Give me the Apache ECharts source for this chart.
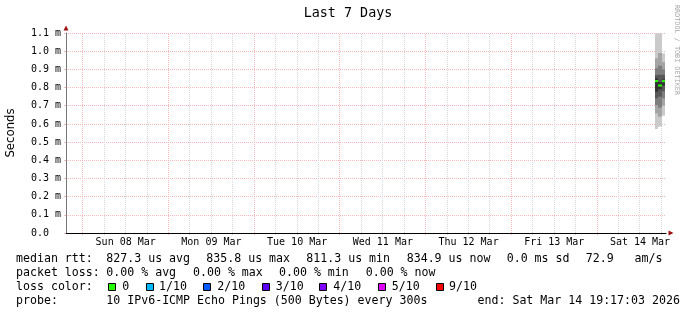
<!DOCTYPE html>
<html><head><meta charset="utf-8">
<script src="https://cdn.jsdelivr.net/npm/echarts@6/dist/echarts.min.js"></script>
<style>html,body{margin:0;padding:0;background:#fff}#c{width:697px;height:315px}</style>
</head><body><div id="c"></div>
<script>
// ---------------- data ----------------
const chartTitle = 'Last 7 Days';
const yAxisTitle = 'Seconds';
const watermark = 'RRDTOOL / TOBI OETIKER';
const endTimeStr = '2026-03-14T19:17:03Z';
const dayDates = ['2026-03-08','2026-03-09','2026-03-10','2026-03-11','2026-03-12','2026-03-13','2026-03-14'];
const dayLabels = ['Sun 08 Mar','Mon 09 Mar','Tue 10 Mar','Wed 11 Mar','Thu 12 Mar','Fri 13 Mar','Sat 14 Mar'];
const yTickLabels = ['0.0  ','0.1 m','0.2 m','0.3 m','0.4 m','0.5 m','0.6 m','0.7 m','0.8 m','0.9 m','1.0 m','1.1 m'];
// hourly smoke slots (start / end), RTT in ms, 10 sorted pings each
const slotStarts = ['2026-03-14T16:00:00Z','2026-03-14T17:00:00Z','2026-03-14T18:00:00Z'];
const slotEnds   = ['2026-03-14T17:00:00Z','2026-03-14T18:00:00Z','2026-03-14T19:00:00Z'];
const pingsSlot1 = [0.572, 0.658, 0.704, 0.741, 0.777, 0.851, 0.869, 0.906, 0.961, 1.098];
const pingsSlot2 = [0.585, 0.640, 0.690, 0.750, 0.790, 0.830, 0.870, 0.920, 0.990, 1.098];
const pingsSlot3 = [0.645, 0.700, 0.740, 0.780, 0.810, 0.845, 0.870, 0.900, 0.940, 0.988];
const medianRtt  = [0.836, 0.811, 0.835];
// legend texts
const rttStatValues = ['827.3','835.8','811.3','834.9'];
const rttStatNames  = ['avg','max','min','now'];
const sdText = '0.0 ms sd';
const amText = '72.9   am/s';
const lossStatValues = ['0.00','0.00','0.00','0.00'];
const lossStatNames  = ['avg','max','min','now'];
const lossColorLabels = ['0','1/10','2/10','3/10','4/10','5/10','9/10'];
const lossColors = ['#26ff00','#00b8ff','#0059ff','#5e00ff','#7e00ff','#dd00ff','#ff0000'];
const probeText = '10 IPv6-ICMP Echo Pings (500 Bytes) every 300s';
const endText = 'end: Sat Mar 14 19:17:03 2026';

// ---------------- build ----------------
const endT = Date.parse(endTimeStr);
const startT = endT - 7 * 24 * 3600 * 1000;
const noons = dayDates.map(d => Date.parse(d + 'T12:00:00Z'));
const gridTimes = [];
dayDates.forEach(d => [0, 6, 12, 18].forEach(h => {
  const t = Date.parse(d + 'T00:00:00Z') + h * 3600000;
  if (t > startT && t < endT) gridTimes.push([t, h === 0 ? 1 : 0]);
}));
const allPings = [pingsSlot1, pingsSlot2, pingsSlot3];
const smokeData = slotStarts.map((s, i) => [Date.parse(s), Date.parse(slotEnds[i])].concat(allPings[i]));
const medianData = slotStarts.map((s, i) => [Date.parse(s), Date.parse(slotEnds[i]), medianRtt[i]]);

const MONO = "'DejaVu Sans Mono', monospace";
const MGRID = '#f2baba', GRID = '#d6d6d6';
const SMOKE = ['#cacaca', '#a4a4a4', '#7e7e7e', '#585858', '#323232'];
const LF = "11.6px 'DejaVu Sans Mono'";

function txt(x, y, s) {
  return { type: 'text', x: x, y: y, silent: true,
    style: { text: s, font: LF, fill: '#000', align: 'left', verticalAlign: 'middle' } };
}
const rowY = [259.3, 273.3, 287.0, 300.9];
const rttX = [106.3, 206.3, 306.3, 406.7];
const lossX = [106.3, 193.0, 279.0, 365.7];
const boxX = [108, 146, 203, 262, 319, 378, 436];
const boxLabelX = [122.3, 159.0, 217.3, 275.7, 333.3, 391.7, 449.0];

const graphics = [
  { type: 'text', x: 348, y: 13.7, silent: true,
    style: { text: chartTitle, font: "13.4px 'DejaVu Sans Mono'", fill: '#000', align: 'center', verticalAlign: 'middle' } },
  { type: 'text', x: 10.9, y: 133, rotation: Math.PI / 2, silent: true,
    style: { text: yAxisTitle, font: "11.7px 'DejaVu Sans'", fill: '#000', align: 'center', verticalAlign: 'middle' } },
  { type: 'text', x: 677, y: 50, rotation: -Math.PI / 2, silent: true,
    style: { text: watermark, font: "6.8px 'DejaVu Sans Mono'", fill: '#a8a8a8', align: 'center', verticalAlign: 'middle' } },
  txt(16, rowY[0], 'median rtt:'),
  txt(16, rowY[1], 'packet loss:'),
  txt(16, rowY[2], 'loss color:'),
  txt(16, rowY[3], 'probe:'),
  txt(506.7, rowY[0], sdText),
  txt(585.7, rowY[0], amText),
  txt(106.3, rowY[3], probeText),
  txt(477.5, rowY[3], endText)
];
rttStatValues.forEach((v, i) => graphics.push(txt(rttX[i], rowY[0], v + ' us ' + rttStatNames[i])));
lossStatValues.forEach((v, i) => graphics.push(txt(lossX[i], rowY[1], v + ' % ' + lossStatNames[i])));
lossColorLabels.forEach((l, i) => {
  graphics.push({ type: 'rect', silent: true, shape: { x: boxX[i] + 0.5, y: 283.5, width: 7, height: 7 },
    style: { fill: lossColors[i], stroke: '#000', lineWidth: 1 } });
  graphics.push(txt(boxLabelX[i], rowY[2], l));
});

const chart = echarts.init(document.getElementById('c'), null, { renderer: 'canvas' });
chart.setOption({
  backgroundColor: '#ffffff',
  animation: false,
  grid: { left: 66, top: 33, width: 600, height: 200 },
  xAxis: [{
    type: 'value', min: startT, max: endT,
    axisLine: { show: true, lineStyle: { color: '#000', width: 1 } },
    axisTick: { show: false },
    splitLine: { show: false },
    axisLabel: {
      customValues: noons, margin: 4,
      fontFamily: MONO, fontSize: 10, color: '#000',
      formatter: v => dayLabels[noons.indexOf(v)] || ''
    }
  }, {
    type: 'value', min: startT, max: endT, position: 'bottom',
    axisLine: { show: true, symbol: ['none', 'triangle'], symbolSize: [5, 5], symbolOffset: [0, 5],
      lineStyle: { color: '#a01010', opacity: 0 } },
    axisTick: { show: false }, axisLabel: { show: false }, splitLine: { show: false }
  }],
  yAxis: [{
    type: 'value', min: 0, max: 1.1, interval: 0.1,
    axisLine: { show: true, lineStyle: { color: '#777', width: 1 } },
    axisTick: { show: true, length: 2, lineStyle: { color: MGRID } },
    splitLine: { show: true, lineStyle: { color: MGRID, type: [1, 1], width: 1 } },
    axisLabel: {
      margin: 5, fontFamily: MONO, fontSize: 10, color: '#000',
      formatter: v => yTickLabels[Math.round(v * 10)]
    }
  }, {
    type: 'value', min: 0, max: 1.1, position: 'left',
    axisLine: { show: true, symbol: ['none', 'triangle'], symbolSize: [5, 5], symbolOffset: [0, 5],
      lineStyle: { color: '#a01010', opacity: 0 } },
    axisTick: { show: false }, axisLabel: { show: false }, splitLine: { show: false }
  }],
  graphic: graphics,
  series: [{
    type: 'custom', name: 'vgrid', z: 0, silent: true, clip: false,
    data: gridTimes,
    encode: { x: 0, y: 1 },
    renderItem: function (params, api) {
      const t = api.value(0);
      const p0 = api.coord([t, 0]);
      const p1 = api.coord([t, 1.1]);
      const x = Math.floor(p0[0]) + 0.5;
      return { type: 'line', shape: { x1: x, y1: p0[1] + 2, x2: x, y2: p1[1] },
        style: { stroke: api.value(1) ? MGRID : GRID, lineWidth: 1, lineDash: [1, 1] } };
    }
  }, {
    type: 'custom', name: 'smoke', z: 3, silent: true,
    data: smokeData,
    encode: { x: [0, 1], y: [2, 3, 4, 5, 6, 7, 8, 9, 10, 11] },
    renderItem: function (params, api) {
      const t0 = api.value(0), t1 = api.value(1);
      const children = [];
      for (let k = 0; k < 5; k++) {
        const lo = api.value(2 + k), hi = api.value(11 - k);
        const a = api.coord([t0, hi]), b = api.coord([t1, lo]);
        const x0 = Math.ceil(a[0]), x1 = Math.ceil(b[0]);
        children.push({ type: 'rect', shape: { x: x0, y: a[1], width: x1 - x0, height: b[1] - a[1] },
          style: { fill: SMOKE[k] } });
      }
      return { type: 'group', children: children };
    }
  }, {
    type: 'custom', name: 'median', z: 4, silent: true,
    data: medianData,
    encode: { x: [0, 1], y: 2 },
    renderItem: function (params, api) {
      const a = api.coord([api.value(0), api.value(2)]);
      const b = api.coord([api.value(1), api.value(2)]);
      const x0 = Math.ceil(a[0]), x1 = Math.ceil(b[0]);
      return { type: 'rect', shape: { x: x0, y: a[1] - 1, width: x1 - x0, height: 2 },
        style: { fill: lossColors[0] } };
    }
  }]
});
</script></body></html>
